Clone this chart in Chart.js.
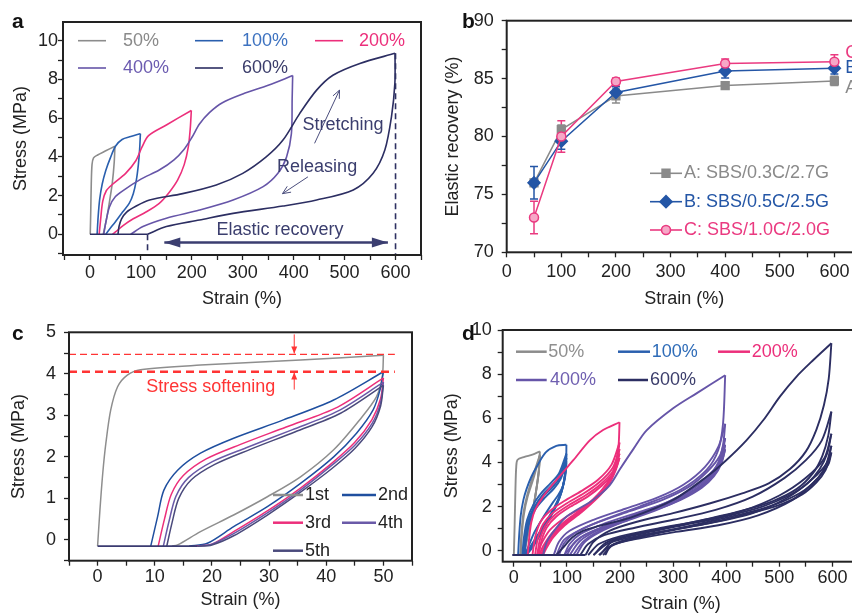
<!DOCTYPE html>
<html>
<head>
<meta charset="utf-8">
<script src="https://cdn.jsdelivr.net/npm/chart.js@4.4.1/dist/chart.umd.min.js"></script>
<style>
  html, body { margin: 0; padding: 0; background: #fff; }
  body { position: relative; width: 852px; height: 615px; overflow: hidden; }
  canvas { position: absolute; }
</style>
</head>
<body>
<canvas id="panelA" width="430" height="310" style="left:0;top:0"></canvas>
<canvas id="panelB" width="440" height="310" style="left:430px;top:0"></canvas>
<canvas id="panelC" width="430" height="305" style="left:0;top:310px"></canvas>
<canvas id="panelD" width="440" height="305" style="left:430px;top:310px"></canvas>
<script>
// ---------- a: one loading/unloading cycle per strain ----------
const aStrainLabels = [0, 100, 200, 300, 400, 500, 600];
const aStrainMinor = [-50, 50, 150, 250, 350, 450, 550, 650];
const aStressLabels = [0, 2, 4, 6, 8, 10];
const aStressMinor = [-1, 1, 3, 5, 7, 9];
const strainNames = ['50%', '100%', '200%', '400%', '600%'];

const a50Load = [[0.5,0],[1.5,1.2],[2.5,2.6],[4,3.6],[7,3.95],[15,4.1],[30,4.3],[49,4.55]];
const a50Unload = [[49,4.55],[47.5,3.7],[44,2.7],[39,1.8],[34,1.0],[29,0.35],[26,0]];
const a100Load = [[14,0],[16,0.9],[19,1.8],[24,2.6],[31,3.3],[40,3.95],[50,4.55],[63,4.9],[80,5.05],[99,5.2]];
const a100Unload = [[99,5.2],[97.5,4.4],[95,3.6],[91,2.8],[85,2.1],[77,1.6],[64,1.15],[50,0.65],[38,0.25],[31,0]];
const a200Load = [[18,0],[21,0.8],[25,1.7],[32,2.25],[45,2.6],[70,3.15],[90,3.8],[102,4.5],[115,5.1],[150,5.65],[199,6.4]];
const a200Unload = [[199,6.4],[197,5.5],[193,4.5],[185,3.6],[172,2.8],[155,2.15],[136,1.6],[110,1.15],[85,0.8],[65,0.45],[50,0.12],[44,0]];
const a400Load = [[27,0],[31,0.6],[38,1.4],[50,1.95],[70,2.35],[100,2.85],[136,3.32],[165,3.85],[185,4.4],[200,5.0],[215,5.7],[235,6.3],[260,6.8],[300,7.25],[350,7.7],[398,8.2]];
const a400Unload = [[398,8.2],[397,7.0],[395.5,5.2],[386,4.0],[369,3.15],[340,2.46],[281,1.77],[215,1.25],[150,0.83],[104,0.4],[80,0]];
const a600Load = [[55,0],[57,0.4],[62,0.8],[72,1.15],[90,1.45],[117,1.77],[182,2.1],[248,2.55],[300,3.15],[346,4.0],[379,4.87],[412,6.25],[445,7.45],[477,8.22],[530,8.83],[599,9.35]];
const a600Unload = [[599,9.35],[598.7,7.8],[592,6.07],[579,4.35],[556,3.15],[517,2.29],[445,1.77],[379,1.46],[281,1.08],[215,0.74],[150,0.4],[113,0]];
const aBase = [[0,0],[113,0]];

// ---------- b: elastic recovery vs strain ----------
const bStrain = [50, 100, 200, 400, 600];
const bStrainLabels = [0, 100, 200, 300, 400, 500, 600];
const bStrainMinor = [50, 150, 250, 350, 450, 550, 650];
const bRecLabels = [70, 75, 80, 85, 90];
const bRecMinor = [72.5, 77.5, 82.5, 87.5];
const bNames = ['A: SBS/0.3C/2.7G', 'B: SBS/0.5C/2.5G', 'C: SBS/1.0C/2.0G'];
const recA = [76.0, 80.6, 83.5, 84.4, 84.8];
const recB = [76.0, 79.6, 83.8, 85.65, 85.9];
const recC = [73.0, 80.0, 84.75, 86.3, 86.45];
const errA = [0.3, 0.4, 0.6, 0.3, 0.4];
const errB = [1.4, 0.7, 0.5, 0.6, 0.5];
const errC = [1.4, 1.35, 0.3, 0.4, 0.6];

// ---------- c: five cycles at 50% strain ----------
const cStrainLabels = [0, 10, 20, 30, 40, 50];
const cStrainMinor = [-5, 5, 15, 25, 35, 45, 55];
const cStressLabels = [0, 1, 2, 3, 4, 5];
const cStressMinor = [-0.5, 0.5, 1.5, 2.5, 3.5, 4.5];
const cycleNames = ['1st', '2nd', '3rd', '4th', '5th'];
const cLoads = [
  [[0,-0.15],[0.4,0.7],[0.9,1.6],[1.45,2.33],[2.3,3.13],[3.5,3.69],[5.2,3.97],[7.5,4.1],[18,4.21],[35.5,4.33],[50,4.45]],
  [[9.3,-0.15],[10.5,0.56],[11.6,1.2],[14,1.68],[18,2.09],[23.8,2.45],[32.5,2.89],[41.3,3.37],[50,4.05]],
  [[10.6,-0.15],[11.7,0.5],[12.9,1.1],[15,1.55],[19,1.95],[25,2.3],[33,2.72],[42,3.2],[50,3.9]],
  [[11.5,-0.15],[12.5,0.45],[13.7,1.05],[15.9,1.5],[20,1.88],[26,2.22],[34,2.65],[42,3.1],[50,3.8]],
  [[12.1,-0.15],[13,0.4],[14.2,1.0],[16.4,1.45],[20.5,1.82],[26.5,2.17],[34.5,2.6],[42.5,3.05],[50,3.72]]
];
const cUnloads = [
  [[50,4.45],[49.8,3.93],[48.8,3.45],[45.9,2.9],[41.3,2.17],[35.5,1.52],[29.7,1.04],[23.8,0.6],[18,0.2],[14,-0.12],[13,-0.15]],
  [[50,4.05],[49.4,3.61],[48.2,3.13],[45.3,2.57],[41.3,2.0],[35.5,1.36],[29.7,0.8],[23.8,0.32],[19.2,-0.08],[16,-0.15]],
  [[50,3.9],[49.5,3.4],[48,2.9],[45,2.35],[41,1.85],[35.5,1.25],[29.7,0.7],[23.8,0.2],[20,-0.1],[17,-0.15]],
  [[50,3.8],[49.5,3.3],[48,2.8],[45,2.28],[41,1.8],[35.5,1.2],[29.7,0.65],[23.8,0.15],[20,-0.1],[17.5,-0.15]],
  [[50,3.72],[49.5,3.22],[48,2.72],[45,2.2],[41,1.72],[35.5,1.15],[29.7,0.6],[23.8,0.1],[20,-0.12],[17.5,-0.15]]
];
const cBase = [[0,-0.15],[17.5,-0.15]];

// ---------- d: repeated cycles at each strain ----------
const dStrainLabels = [0, 100, 200, 300, 400, 500, 600];
const dStrainMinor = [50, 150, 250, 350, 450, 550, 650];
const dStressLabels = [0, 2, 4, 6, 8, 10];
const dStressMinor = [1, 3, 5, 7, 9];

const d50Loads = [
  [[0,-0.2],[1.5,1.2],[3,2.8],[4.5,3.8],[7,4.12],[20,4.25],[35,4.35],[49,4.5]],
  [[12,-0.2],[14,0.7],[18,1.7],[25,2.5],[35,3.3],[49,4.35]],
  [[13,-0.2],[15,0.7],[19,1.65],[26,2.45],[36,3.2],[49,4.3]]
];
const d50Unloads = [
  [[49,4.5],[47.5,3.8],[43,2.9],[37,2.0],[29,1.0],[21,0.2],[17,-0.2]],
  [[49,4.35],[47,3.6],[42.5,2.8],[36,1.85],[28,0.95],[21,0.15],[18,-0.2]],
  [[49,4.3],[47,3.55],[42,2.7],[35.5,1.8],[27.5,0.9],[21.5,0.1],[19,-0.2]]
];
const d100Loads = [
  [[8,-0.2],[10,0.7],[13,1.6],[18,2.3],[24,2.8],[33,3.35],[43,3.8],[60,4.45],[80,4.75],[99,4.8]],
  [[16,-0.2],[19,0.6],[25,1.4],[37,2.1],[53,2.65],[69,3.05],[85,3.5],[99,4.4]],
  [[18,-0.2],[21,0.55],[27,1.35],[39,2.0],[55,2.55],[71,2.95],[86,3.4],[99,4.2]],
  [[19,-0.2],[22,0.5],[28,1.3],[40,1.95],[57,2.5],[73,2.88],[87,3.32],[99,4.05]],
  [[20,-0.2],[23,0.45],[29,1.25],[41,1.9],[59,2.42],[75,2.8],[88,3.25],[99,3.95]]
];
const d100Unloads = [
  [[99,4.8],[98.5,4.0],[97,3.4],[92,2.9],[83,2.5],[74,2.2],[55,1.5],[38,0.8],[26,0.1],[20,-0.2]],
  [[99,4.4],[97,3.6],[92,2.9],[83,2.3],[70,1.7],[55,1.1],[38,0.45],[21,-0.2]],
  [[99,4.2],[96.5,3.45],[91,2.8],[82,2.2],[69,1.6],[54,1.0],[38,0.4],[22,-0.2]],
  [[99,4.05],[96,3.35],[90.5,2.72],[81,2.12],[68,1.52],[53,0.92],[38,0.32],[23,-0.2]],
  [[99,3.95],[95.5,3.28],[90,2.67],[80.5,2.06],[67.5,1.45],[53,0.85],[38,0.25],[24,-0.2]]
];
const d200Loads = [
  [[26,-0.2],[29,0.6],[33,1.3],[40,1.85],[55,2.45],[80,3.2],[112,4.1],[143,5.0],[168,5.47],[199,5.82]],
  [[35,-0.2],[40,0.6],[50,1.3],[68,1.8],[95,2.25],[127,2.7],[158,3.2],[184,3.9],[199,4.9]],
  [[40,-0.2],[45,0.55],[55,1.2],[73,1.7],[100,2.15],[132,2.6],[161,3.1],[186,3.75],[199,4.6]],
  [[44,-0.2],[49,0.5],[59,1.12],[77,1.62],[104,2.07],[136,2.52],[164,3.02],[188,3.65],[199,4.4]],
  [[47,-0.2],[52,0.45],[62,1.05],[80,1.55],[107,2.0],[139,2.45],[166,2.95],[189,3.55],[199,4.2]]
];
const d200Unloads = [
  [[199,5.82],[197,4.71],[190,3.8],[175,2.9],[143,2.15],[99,1.54],[68,0.94],[49,0.18],[44,-0.2]],
  [[199,4.9],[194,4.1],[184,3.4],[164,2.7],[134,2.0],[100,1.4],[72,0.8],[55,0.2],[48,-0.2]],
  [[199,4.6],[193,3.9],[182,3.25],[161,2.6],[131,1.9],[98,1.3],[72,0.72],[57,0.15],[51,-0.2]],
  [[199,4.4],[192,3.75],[180,3.12],[159,2.5],[129,1.82],[97,1.22],[73,0.65],[59,0.1],[53,-0.2]],
  [[199,4.2],[191,3.6],[179,3.0],[158,2.4],[128,1.75],[96,1.15],[74,0.6],[60,0.05],[55,-0.2]]
];
const d400Loads = [
  [[55,-0.2],[62,0.4],[77,0.94],[99,1.54],[149,2.3],[180,2.95],[200,3.7],[225,4.6],[250,5.45],[300,6.45],[344,7.13],[398,7.95]],
  [[75,-0.2],[85,0.4],[105,0.9],[150,1.4],[210,1.9],[270,2.4],[320,3.0],[360,3.8],[385,4.7],[398,5.75]],
  [[85,-0.2],[95,0.35],[115,0.8],[160,1.3],[220,1.8],[280,2.3],[330,2.9],[365,3.6],[388,4.3],[398,5.1]],
  [[95,-0.2],[105,0.3],[125,0.75],[170,1.22],[230,1.7],[290,2.2],[335,2.8],[368,3.45],[390,4.1],[398,4.8]],
  [[100,-0.2],[112,0.28],[132,0.7],[178,1.15],[238,1.62],[296,2.12],[340,2.7],[371,3.35],[391,4.0],[398,4.6]]
];
const d400Unloads = [
  [[398,7.95],[394,5.77],[385,4.56],[363,3.66],[313,2.75],[237,2.0],[180,1.5],[130,1.0],[95,0.5],[80,-0.2]],
  [[398,5.75],[394,4.8],[385,4.0],[365,3.3],[330,2.7],[280,2.1],[220,1.55],[160,1.0],[120,0.5],[95,-0.2]],
  [[398,5.1],[392,4.3],[381,3.7],[360,3.1],[325,2.55],[275,2.0],[215,1.45],[160,0.95],[125,0.45],[105,-0.2]],
  [[398,4.8],[391,4.05],[379,3.5],[357,2.95],[320,2.4],[270,1.9],[210,1.35],[160,0.88],[130,0.4],[112,-0.2]],
  [[398,4.6],[390,3.9],[377,3.38],[354,2.85],[316,2.32],[266,1.82],[206,1.3],[160,0.82],[133,0.38],[118,-0.2]]
];
const d600Loads = [
  [[80,-0.2],[95,0.2],[110,0.6],[130,0.9],[160,1.12],[220,1.5],[300,2.3],[363,3.35],[400,4.1],[438,5.0],[470,5.92],[501,6.98],[532,7.88],[564,8.64],[598,9.4]],
  [[125,-0.2],[140,0.3],[170,0.7],[230,1.05],[300,1.4],[380,1.85],[450,2.45],[510,3.3],[550,4.1],[580,5.0],[598,6.3]],
  [[140,-0.2],[160,0.3],[200,0.65],[270,1.0],[350,1.35],[430,1.8],[500,2.5],[550,3.3],[585,4.2],[598,5.3]],
  [[150,-0.2],[175,0.3],[220,0.6],[290,0.92],[370,1.25],[450,1.7],[515,2.4],[560,3.2],[590,4.0],[598,4.75]],
  [[160,-0.2],[185,0.25],[235,0.55],[305,0.85],[385,1.15],[460,1.6],[525,2.3],[565,3.1],[592,3.9],[598,4.45]]
];
const d600Unloads = [
  [[598,9.4],[593,7.8],[584,6.6],[570,5.5],[550,4.5],[520,3.7],[480,3.05],[430,2.6],[370,2.15],[300,1.7],[230,1.3],[180,0.9],[150,0.4],[135,-0.2]],
  [[598,6.3],[592,5.2],[581,4.3],[563,3.5],[533,2.8],[488,2.25],[428,1.8],[358,1.4],[288,1.05],[218,0.7],[173,0.35],[150,-0.2]],
  [[598,5.3],[590,4.4],[576,3.7],[553,3.05],[518,2.5],[468,2.0],[398,1.55],[318,1.15],[248,0.8],[188,0.45],[162,-0.2]],
  [[598,4.75],[588,3.9],[573,3.3],[548,2.75],[508,2.25],[453,1.8],[383,1.4],[308,1.0],[238,0.65],[188,0.3],[168,-0.2]],
  [[598,4.45],[587,3.65],[570,3.1],[543,2.55],[498,2.05],[438,1.65],[368,1.25],[293,0.9],[228,0.55],[183,0.2],[172,-0.2]]
];
const dBase = [[-3,-0.2],[135,-0.2]];

// ---------- styling ----------
const FONT = "'Liberation Sans', Arial, Helvetica, sans-serif";
const INK = '#222';
const GRAY = '#8c8c8c', BLUE = '#2a5fae', PINK = '#ec2f7b', PURPLE = '#6655a8', NAVY = '#2c2e62';
const RED = '#ff3434';
Chart.defaults.font.family = FONT;
Chart.defaults.font.size = 18;
Chart.defaults.color = INK;

function pts(arr) { return arr.map(p => ({ x: p[0], y: p[1] })); }

function curve(arr, color, width, order) {
  return { data: pts(arr), borderColor: color, backgroundColor: color, borderWidth: width,
           pointRadius: 0, showLine: true, tension: 0.3, order: order };
}

// each branch is its own dataset so the turning points stay sharp
function branches(list, color, width, order) {
  return list.map(b => curve(b, color, width, order));
}

function axis(min, max, labels, minor, size, tickPad, title, titlePad) {
  return {
    type: 'linear', min: min, max: max,
    afterBuildTicks: s => { s.ticks = labels.concat(minor).sort((p, q) => p - q).map(v => ({ value: v })); },
    afterFit: s => { if (s.isHorizontal()) s.height = size; else s.width = size; },
    ticks: { autoSkip: false, maxRotation: 0, padding: tickPad, color: INK, font: { size: 18 },
             callback: v => labels.includes(v) ? String(v) : '' },
    grid: { drawOnChartArea: false, tickLength: 5, tickColor: INK, tickWidth: 1.3 },
    border: { display: false },
    title: { display: true, text: title, color: INK, font: { size: 18 }, padding: titlePad }
  };
}

function arrowHead(ctx, x1, y1, x2, y2, len, half, filled) {
  const ang = Math.atan2(y2 - y1, x2 - x1);
  const bx = x2 - len * Math.cos(ang), by = y2 - len * Math.sin(ang);
  const nx = -Math.sin(ang) * half, ny = Math.cos(ang) * half;
  ctx.beginPath();
  ctx.moveTo(bx + nx, by + ny); ctx.lineTo(x2, y2); ctx.lineTo(bx - nx, by - ny);
  if (filled) { ctx.closePath(); ctx.fill(); } else ctx.stroke();
}

// frame, error bars, keys, arrows and notes
const notes = {
  id: 'notes',
  beforeDatasetsDraw(chart) {
    const ctx = chart.ctx, xs = chart.scales.x, ys = chart.scales.y;
    chart.data.datasets.forEach(ds => {
      if (!ds.errors) return;
      ctx.save();
      ctx.strokeStyle = ds.borderColor; ctx.lineWidth = 1.5;
      ds.data.forEach((p, j) => {
        const x = xs.getPixelForValue(p.x);
        const hi = ys.getPixelForValue(p.y + ds.errors[j]);
        const lo = ys.getPixelForValue(p.y - ds.errors[j]);
        ctx.beginPath();
        ctx.moveTo(x, hi); ctx.lineTo(x, lo);
        ctx.moveTo(x - 4, hi); ctx.lineTo(x + 4, hi);
        ctx.moveTo(x - 4, lo); ctx.lineTo(x + 4, lo);
        ctx.stroke();
      });
      ctx.restore();
    });
  },
  afterDatasetsDraw(chart, args, o) {
    const ctx = chart.ctx, a = chart.chartArea;
    const X = v => chart.scales.x.getPixelForValue(v);
    const Y = v => chart.scales.y.getPixelForValue(v);
    ctx.save();
    (o.dashes || []).forEach(d => {
      ctx.strokeStyle = d.color; ctx.lineWidth = d.width; ctx.setLineDash(d.dash);
      ctx.beginPath(); ctx.moveTo(X(d.from[0]), Y(d.from[1])); ctx.lineTo(X(d.to[0]), Y(d.to[1])); ctx.stroke();
    });
    ctx.setLineDash([]);
    (o.arrows || []).forEach(r => {
      const x1 = X(r.from[0]), y1 = Y(r.from[1]), x2 = X(r.to[0]), y2 = Y(r.to[1]);
      ctx.strokeStyle = r.color; ctx.fillStyle = r.color; ctx.lineWidth = r.width;
      ctx.beginPath(); ctx.moveTo(x1, y1); ctx.lineTo(x2, y2); ctx.stroke();
      arrowHead(ctx, x1, y1, x2, y2, r.head[0], r.head[1], r.filled);
      if (r.both) arrowHead(ctx, x2, y2, x1, y1, r.head[0], r.head[1], r.filled);
    });
    ctx.strokeStyle = INK; ctx.lineWidth = 2;
    ctx.strokeRect(a.left, a.top, a.right - a.left, a.bottom - a.top);

    ctx.textBaseline = 'middle';
    (o.keys || []).forEach(k => {
      ctx.strokeStyle = k.color; ctx.lineWidth = k.width || 1.6;
      ctx.beginPath(); ctx.moveTo(k.x1, k.y); ctx.lineTo(k.x2, k.y); ctx.stroke();
      if (k.marker) {
        ctx.fillStyle = k.marker.fill;
        Chart.helpers.drawPoint(ctx, k.marker, (k.x1 + k.x2) / 2, k.y);
      }
      ctx.textAlign = 'left';
      ctx.fillStyle = k.textColor; ctx.font = '18px ' + FONT;
      ctx.fillText(k.text, k.tx, k.y);
    });
    (o.texts || []).forEach(t => {
      ctx.textAlign = t.align || 'center';
      ctx.fillStyle = t.color; ctx.font = '18px ' + FONT;
      ctx.fillText(t.text, X(t.at[0]), Y(t.at[1]));
    });
    if (o.letter) {
      ctx.textAlign = 'left'; ctx.textBaseline = 'alphabetic';
      ctx.fillStyle = '#111'; ctx.font = 'bold 21px ' + FONT;
      ctx.fillText(o.letter.text, o.letter.x, o.letter.y);
    }
    ctx.restore();
  }
};
Chart.register(notes);

function panel(id, datasets, pad, xAxis, yAxis, noteOpts) {
  return new Chart(document.getElementById(id), {
    type: 'scatter',
    data: { datasets: datasets },
    options: {
      responsive: false, animation: false, events: [],
      layout: { padding: pad },
      plugins: { legend: { display: false }, tooltip: { enabled: false }, notes: noteOpts },
      scales: { x: xAxis, y: yAxis }
    }
  });
}

// ---------- a ----------
const aColors = [GRAY, BLUE, PINK, PURPLE, NAVY];
const aTextColors = ['#8a8a8a', '#3d72c0', PINK, '#6b5bb0', '#3a3c6a'];
panel('panelA', [
  curve(aBase, NAVY, 1.6, 0),
  curve(a600Load, NAVY, 1.6, 1), curve(a600Unload, NAVY, 1.6, 1),
  curve(a400Load, PURPLE, 1.6, 2), curve(a400Unload, PURPLE, 1.6, 2),
  curve(a200Load, PINK, 1.6, 3), curve(a200Unload, PINK, 1.6, 3),
  curve(a100Load, BLUE, 1.6, 4), curve(a100Unload, BLUE, 1.6, 4),
  curve(a50Load, GRAY, 1.6, 5), curve(a50Unload, GRAY, 1.6, 5)
], { top: 22, right: 9, bottom: 0, left: 0 },
  axis(-53, 650, aStrainLabels, aStrainMinor, 55, 2, 'Strain (%)', { top: 0, bottom: 0 }),
  axis(-1.07, 10.97, aStressLabels, aStressMinor, 63, 0, 'Stress (MPa)', { top: 10, bottom: 0 }),
  {
    letter: { text: 'a', x: 12, y: 28 },
    keys: [
      { x1: 78, x2: 106, y: 40.7, tx: 123, text: strainNames[0], color: aColors[0], textColor: aTextColors[0] },
      { x1: 195, x2: 223, y: 40.7, tx: 242, text: strainNames[1], color: aColors[1], textColor: aTextColors[1] },
      { x1: 315, x2: 343, y: 40.7, tx: 359, text: strainNames[2], color: aColors[2], textColor: aTextColors[2] },
      { x1: 78, x2: 106, y: 68, tx: 123, text: strainNames[3], color: aColors[3], textColor: aTextColors[3] },
      { x1: 195, x2: 223, y: 68, tx: 242, text: strainNames[4], color: aColors[4], textColor: aTextColors[4] }
    ],
    dashes: [
      { from: [600, 9.35], to: [600, -1.07], color: '#2f3162', width: 1.6, dash: [6, 4] },
      { from: [113, 0], to: [113, -1.07], color: '#2f3162', width: 1.6, dash: [6, 4] }
    ],
    arrows: [
      { from: [146, -0.43], to: [585, -0.43], color: '#3b3e70', width: 2.5, head: [16, 5], filled: true, both: true },
      { from: [441, 4.7], to: [490, 7.45], color: '#4a4d7c', width: 1, head: [8, 3.5], filled: false },
      { from: [428, 2.97], to: [378, 2.1], color: '#4a4d7c', width: 1, head: [8, 3.5], filled: false }
    ],
    texts: [
      { text: 'Stretching', at: [497, 5.65], color: '#3b3e6e' },
      { text: 'Releasing', at: [446, 3.49], color: '#3b3e6e' },
      { text: 'Elastic recovery', at: [373, 0.22], color: '#3b3e6e' }
    ]
  });

// ---------- b ----------
const bGray = '#8a8a8a', bBlue = '#2456a6', bPink = '#ea3a80';
function recSeries(vals, errs, color, style, radius, fill) {
  return { data: pts(bStrain.map((s, i) => [s, vals[i]])), errors: errs,
           borderColor: color, backgroundColor: fill, borderWidth: 1.5, showLine: true, tension: 0,
           pointStyle: style, pointRadius: radius, pointBorderWidth: 1.5, pointBorderColor: color, pointBackgroundColor: fill };
}
panel('panelB', [
  recSeries(recC, errC, bPink, 'circle', 4.5, '#f6a7c7'),
  recSeries(recB, errB, bBlue, 'rectRot', 6, bBlue),
  recSeries(recA, errA, bGray, 'rect', 5.5, bGray)
], { top: 20.7, right: 8.3, bottom: 0, left: 0 },
  axis(0, 650, bStrainLabels, bStrainMinor, 57.7, 4, 'Strain (%)', { top: 0, bottom: 0 }),
  axis(70, 90, bRecLabels, bRecMinor, 76.7, 8, 'Elastic recovery (%)', { top: 12, bottom: 0 }),
  {
    letter: { text: 'b', x: 32, y: 28 },
    keys: [
      { x1: 220, x2: 252, y: 173.3, tx: 254, text: bNames[0], color: bGray, textColor: bGray,
        marker: { pointStyle: 'rect', radius: 5.5, borderWidth: 1, rotation: 0, fill: bGray } },
      { x1: 220, x2: 252, y: 201.7, tx: 254, text: bNames[1], color: bBlue, textColor: bBlue,
        marker: { pointStyle: 'rectRot', radius: 6, borderWidth: 1, rotation: 0, fill: bBlue } },
      { x1: 220, x2: 252, y: 230, tx: 254, text: bNames[2], color: bPink, textColor: bPink,
        marker: { pointStyle: 'circle', radius: 4.5, borderWidth: 1.5, rotation: 0, fill: '#f6a7c7' } }
    ],
    texts: [
      { text: 'C', at: [620, 87.2], color: bPink, align: 'left' },
      { text: 'B', at: [620, 85.9], color: bBlue, align: 'left' },
      { text: 'A', at: [620, 84.2], color: bGray, align: 'left' }
    ]
  });

// ---------- c ----------
const cColors = ['#8e8e8e', '#1f4f9f', PINK, '#6a5aa8', '#4a4a7c'];
const cSets = [curve(cBase, '#3a3a70', 1.6, 0)];
for (let i = 4; i >= 0; i--) {
  cSets.push(curve(cLoads[i], cColors[i], 1.5, 5 - i), curve(cUnloads[i], cColors[i], 1.5, 5 - i));
}
panel('panelC', cSets, { top: 22.3, right: 18, bottom: 0, left: 0 },
  axis(-5, 55, cStrainLabels, cStrainMinor, 54.3, 1, 'Strain (%)', { top: 0, bottom: 3.7 }),
  axis(-0.5, 5, cStressLabels, cStressMinor, 69, 8, 'Stress (MPa)', { top: 8.7, bottom: 0 }),
  {
    letter: { text: 'c', x: 12, y: 30 },
    keys: [
      { x1: 273, x2: 303, y: 185, tx: 305, text: cycleNames[0], color: cColors[0], textColor: INK, width: 2.5 },
      { x1: 342, x2: 376, y: 185, tx: 378, text: cycleNames[1], color: cColors[1], textColor: INK, width: 2.5 },
      { x1: 273, x2: 303, y: 212.7, tx: 305, text: cycleNames[2], color: cColors[2], textColor: INK, width: 2.5 },
      { x1: 342, x2: 376, y: 212.7, tx: 378, text: cycleNames[3], color: cColors[3], textColor: INK, width: 2.5 },
      { x1: 273, x2: 303, y: 240.7, tx: 305, text: cycleNames[4], color: cColors[4], textColor: INK, width: 2.5 }
    ],
    dashes: [
      { from: [-5, 4.47], to: [52, 4.47], color: RED, width: 1.3, dash: [7, 4] },
      { from: [-5, 4.05], to: [52, 4.05], color: RED, width: 2.6, dash: [8, 5] }
    ],
    arrows: [
      { from: [34.4, 4.95], to: [34.4, 4.49], color: RED, width: 1, head: [7, 3], filled: true },
      { from: [34.4, 3.62], to: [34.4, 4.03], color: RED, width: 1, head: [7, 3], filled: true }
    ],
    texts: [{ text: 'Stress softening', at: [19.8, 3.68], color: RED }]
  });

// ---------- d ----------
const dTextColors = ['#8f8f8f', '#2f6cb8', PINK, '#6f5fb0', '#3b3d6b'];
panel('panelD', [curve(dBase, NAVY, 2, 0)]
  .concat(branches(d600Loads, NAVY, 1.9, 1), branches(d600Unloads, NAVY, 1.9, 1))
  .concat(branches(d400Loads, PURPLE, 1.9, 2), branches(d400Unloads, PURPLE, 1.9, 2))
  .concat(branches(d200Loads, PINK, 1.9, 3), branches(d200Unloads, PINK, 1.9, 3))
  .concat(branches(d100Loads, BLUE, 1.9, 4), branches(d100Unloads, BLUE, 1.9, 4))
  .concat(branches(d50Loads, GRAY, 1.9, 5), branches(d50Unloads, GRAY, 1.9, 5)),
  { top: 20, right: 11, bottom: 0, left: 0 },
  axis(-21, 650, dStrainLabels, dStrainMinor, 53.3, 1, 'Strain (%)', { top: 0, bottom: 0 }),
  axis(-0.5, 10, dStressLabels, dStressMinor, 72.7, 6, 'Stress (MPa)', { top: 11.7, bottom: 0 }),
  {
    letter: { text: 'd', x: 32, y: 29.5 },
    keys: [
      { x1: 86, x2: 116.7, y: 41.7, tx: 118.3, text: strainNames[0], color: GRAY, textColor: dTextColors[0], width: 2.5 },
      { x1: 188, x2: 220, y: 41.7, tx: 221.7, text: strainNames[1], color: BLUE, textColor: dTextColors[1], width: 2.5 },
      { x1: 288, x2: 320, y: 41.7, tx: 321.7, text: strainNames[2], color: PINK, textColor: dTextColors[2], width: 2.5 },
      { x1: 86, x2: 116.7, y: 70, tx: 120, text: strainNames[3], color: PURPLE, textColor: dTextColors[3], width: 2.5 },
      { x1: 188, x2: 218, y: 70, tx: 220, text: strainNames[4], color: NAVY, textColor: dTextColors[4], width: 2.5 }
    ]
  });
</script>
</body>
</html>
